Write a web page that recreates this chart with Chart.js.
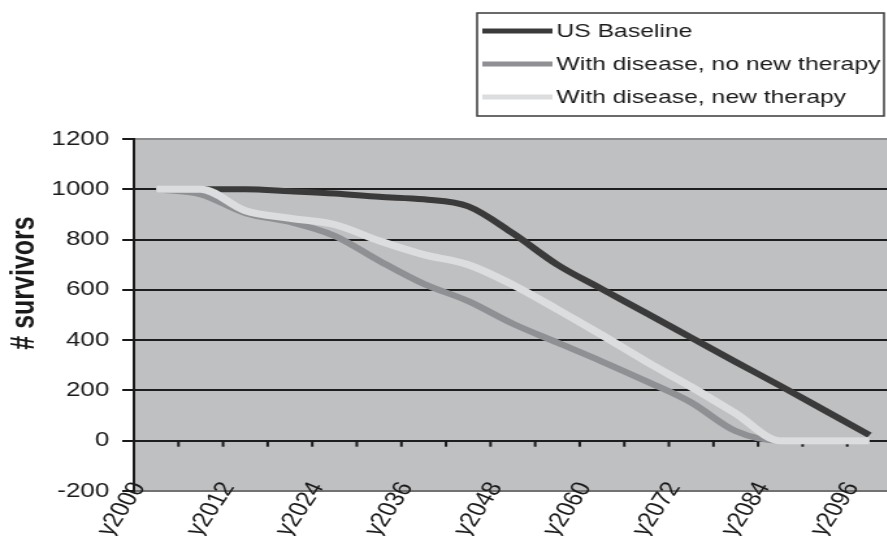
<!DOCTYPE html>
<html>
<head>
<meta charset="utf-8">
<script src="https://cdn.jsdelivr.net/npm/chart.js@4.4.1/dist/chart.umd.min.js"></script>
<style>
  html, body { margin: 0; padding: 0; background: #fff; overflow: hidden; }
  /* the source picture is stretched sideways, so the chart is drawn narrow and scaled */
  #wrap { width: 690px; height: 536px; transform: scaleX(1.3); transform-origin: 0 0; }
</style>
</head>
<body>
<div id="wrap"><canvas id="myChart" width="690" height="536"></canvas></div>
<script>
var years = ['y2000', 'y2006', 'y2012', 'y2018', 'y2024', 'y2030', 'y2036', 'y2042', 'y2048',
             'y2054', 'y2060', 'y2066', 'y2072', 'y2078', 'y2084', 'y2090', 'y2096']
var usBaseline   = [1000, 1000, 1000, 992, 983, 970, 960, 932, 825, 700, 603, 507, 410, 313, 218, 120, 22]
var noNewTherapy = [1000, 980, 905, 870, 815, 716, 624, 555, 465, 390, 315, 236, 152, 38, 0, 0, 0]
var newTherapy   = [1000, 1000, 915, 885, 860, 795, 740, 700, 620, 522, 420, 314, 214, 108, 0, 0, 0]
var seriesNames  = ['US Baseline', 'With disease, no new therapy', 'With disease, new therapy']
var yTicks = [-200, 0, 200, 400, 600, 800, 1000, 1200]
var yTitle = '# survivors'

var FONT = '"Liberation Sans", Arial, sans-serif'

// gray plot background
const plotBg = {
    id: 'plotBg',
    beforeDraw(chart) {
        var a = chart.chartArea
        var ctx = chart.ctx
        ctx.save()
        ctx.fillStyle = '#bfc0c2'
        ctx.fillRect(a.left, a.top, a.right - a.left, a.bottom - a.top)
        ctx.restore()
    }
}

// small tick marks hanging under the zero line, between categories
const zeroTicks = {
    id: 'zeroTicks',
    beforeDatasetsDraw(chart) {
        var xs = chart.scales.x
        var ys = chart.scales.y
        var ctx = chart.ctx
        var w = xs.getPixelForValue(1) - xs.getPixelForValue(0)
        var y0 = ys.getPixelForValue(0)
        ctx.save()
        ctx.strokeStyle = '#1a1a1a'
        ctx.lineWidth = 2
        for (var i = 1; i < years.length; i++) {
            var x = xs.getPixelForValue(i) - w / 2
            ctx.beginPath()
            ctx.moveTo(x, y0)
            ctx.lineTo(x, y0 + 6)
            ctx.stroke()
        }
        ctx.restore()
    }
}

// y axis title, sits a bit above the middle of the plot
const axisTitle = {
    id: 'axisTitle',
    afterDraw(chart) {
        var ctx = chart.ctx
        ctx.save()
        ctx.translate(19, 283)
        ctx.rotate(-Math.PI / 2)
        ctx.font = 'bold 25px ' + FONT
        ctx.fillStyle = '#1a1a1a'
        ctx.textAlign = 'center'
        ctx.textBaseline = 'middle'
        ctx.fillText(yTitle, 0, 0)
        ctx.restore()
    }
}

// boxed legend, one series per row
const legendBox = {
    id: 'legendBox',
    afterDraw(chart) {
        var ctx = chart.ctx
        ctx.save()
        ctx.strokeStyle = '#3a3a3a'
        ctx.lineWidth = 1.5
        ctx.strokeRect(367, 13, 313, 103)
        ctx.font = '19px ' + FONT
        ctx.textBaseline = 'middle'
        chart.data.datasets.forEach(function (ds, i) {
            var y = 31 + i * 33
            ctx.strokeStyle = ds.borderColor
            ctx.lineWidth = 5
            ctx.beginPath()
            ctx.moveTo(371, y)
            ctx.lineTo(425, y)
            ctx.stroke()
            ctx.fillStyle = '#1a1a1a'
            ctx.fillText(ds.label, 428, y + 1)
        })
        ctx.restore()
    }
}

const data = {
    labels: years,
    datasets: [{
        label: seriesNames[0],
        data: usBaseline,
        borderColor: '#3a3a3a',
        borderWidth: 6,
        order: 3
    }, {
        label: seriesNames[1],
        data: noNewTherapy,
        borderColor: '#8f9093',
        borderWidth: 6,
        order: 2
    }, {
        label: seriesNames[2],
        data: newTherapy,
        borderColor: '#dcdddf',
        borderWidth: 7,
        order: 1
    }]
}

const config = {
    type: 'line',
    data: data,
    options: {
        responsive: false,
        animation: false,
        layout: { padding: { top: 139, right: 4, left: 0, bottom: 45 } },
        elements: {
            point: { radius: 0 },
            line: { cubicInterpolationMode: 'monotone', tension: 0.4 }
        },
        plugins: {
            legend: { display: false },
            tooltip: { enabled: false }
        },
        scales: {
            x: {
                // pinned to the bottom value so the labels may run up into the plot
                position: { y: -200 },
                offset: true,
                grid: { display: false, drawTicks: false },
                border: { display: false },
                ticks: {
                    autoSkip: false,
                    minRotation: 62,
                    maxRotation: 62,
                    padding: -13,
                    labelOffset: -13,
                    color: '#1a1a1a',
                    font: { family: FONT, size: 21 },
                    callback: function (v, i) {
                        return i % 2 === 0 ? this.getLabelForValue(v) : ''
                    }
                }
            },
            y: {
                min: -200,
                max: 1200,
                afterBuildTicks: function (scale) {
                    scale.ticks = yTicks.map(function (v) { return { value: v } })
                },
                ticks: {
                    padding: 10,
                    color: '#1a1a1a',
                    font: { family: FONT, size: 20 },
                    callback: function (v) { return String(v) }
                },
                grid: {
                    lineWidth: 2,
                    tickLength: 9,
                    tickColor: '#1a1a1a',
                    color: function (c) {
                        if (c.tick && c.tick.value === 1200) return '#8c8c8c'
                        if (c.tick && c.tick.value === -200) return '#727272'
                        return '#1e1e1e'
                    }
                },
                border: { color: '#1a1a1a', width: 2 },
                afterFit: function (scale) { scale.width = 103 }
            }
        }
    },
    plugins: [plotBg, zeroTicks, axisTitle, legendBox]
}

const myChart = new Chart(document.getElementById('myChart'), config)
</script>
</body>
</html>
